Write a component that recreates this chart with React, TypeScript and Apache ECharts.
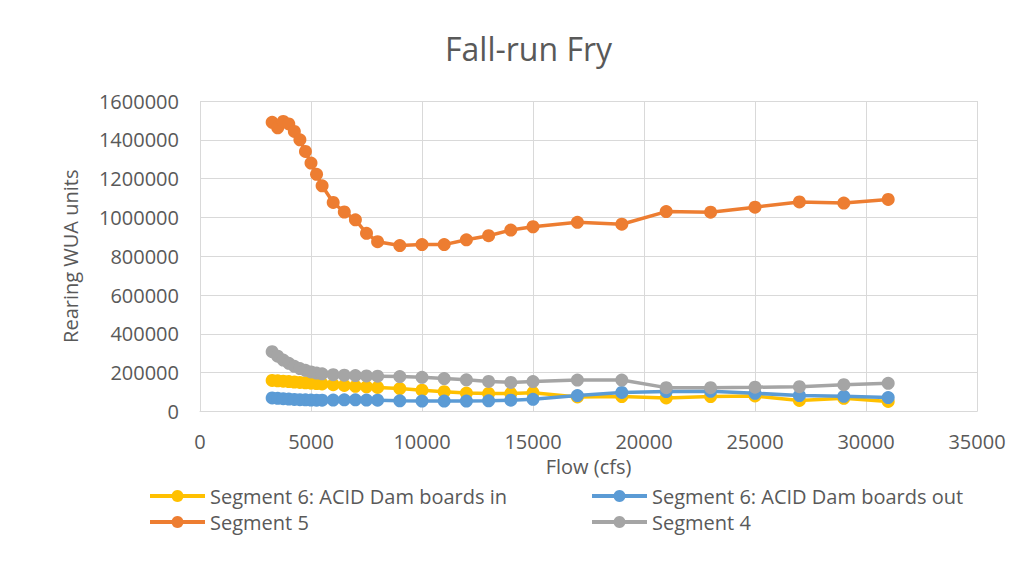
import React, { useEffect, useRef } from "react";
import * as echarts from "echarts";

const flows = [3250, 3500, 3750, 4000, 4250, 4500, 4750, 5000, 5250, 5500, 6000, 6500, 7000, 7500, 8000, 9000, 10000, 11000, 12000, 13000, 14000, 15000, 17000, 19000, 21000, 23000, 25000, 27000, 29000, 31000];

const seg6In = [160000, 158000, 156000, 154000, 152000, 150000, 148000, 146000, 144000, 142000, 138000, 134000, 130000, 127000, 124000, 118000, 110000, 102000, 95000, 93000, 93000, 97000, 75000, 77000, 70000, 77000, 80000, 57000, 68000, 52000];
const seg6Out = [70000, 68000, 66000, 64000, 62000, 61000, 60000, 59000, 58000, 58000, 59000, 60000, 60000, 59000, 58000, 55000, 54000, 54000, 54000, 55000, 58000, 63000, 82000, 98000, 103000, 104000, 94000, 82000, 78000, 72000];
const seg5 = [1490000, 1462000, 1495000, 1482000, 1443000, 1400000, 1340000, 1280000, 1222000, 1163000, 1077000, 1028000, 988000, 918000, 875000, 855000, 860000, 860000, 885000, 906000, 935000, 952000, 975000, 965000, 1030000, 1027000, 1053000, 1080000, 1074000, 1093000];
const seg4 = [308000, 285000, 265000, 248000, 233000, 221000, 212000, 204000, 198000, 194000, 190000, 187000, 185000, 183000, 182000, 180000, 176000, 170000, 163000, 155000, 150000, 154000, 162000, 162000, 123000, 123000, 125000, 128000, 138000, 145000];

const seriesNames = ["Segment 6: ACID Dam boards in", "Segment 6: ACID Dam boards out", "Segment 5", "Segment 4"];
const seriesValues = [seg6In, seg6Out, seg5, seg4];
const seriesColors = ["#FFC000", "#5B9BD5", "#ED7D31", "#A5A5A5"];

const FONT = "'Open Sans', sans-serif";
const TXT = "#595959";

export default function App() {
  const ref = useRef<HTMLDivElement>(null);
  useEffect(() => {
    if (!ref.current) return;
    const chart = echarts.init(ref.current, undefined, { renderer: "svg" });
    const legendPos = [
      { left: 148, top: 486 },
      { left: 590, top: 486 },
      { left: 148, top: 512 },
      { left: 590, top: 512 },
    ];
    chart.setOption({
      animation: false,
      backgroundColor: "#ffffff",
      textStyle: { fontFamily: FONT },
      title: {
        text: "Fall-run Fry",
        left: 440,
        top: 27,
        textStyle: { fontFamily: FONT, fontSize: 32, fontWeight: "normal", color: TXT },
      },
      graphic: [
        {
          type: "line",
          z: 100,
          shape: { x1: 5.5, y1: 0, x2: 5.5, y2: 561 },
          style: { stroke: "#c8c8c8", lineWidth: 1 },
          silent: true,
        },
      ],
      legend: seriesNames.map((n, i) => ({
        data: [n],
        left: legendPos[i].left,
        top: legendPos[i].top,
        padding: 0,
        itemWidth: 55,
        itemHeight: 15,
        lineStyle: { width: 4 },
        textStyle: { fontFamily: FONT, fontSize: 20, color: TXT },
        selectedMode: false,
      })),
      grid: { left: 200, right: 54, top: 101, bottom: 149.5, containLabel: false },
      xAxis: {
        type: "value",
        min: 0,
        max: 35000,
        interval: 5000,
        name: "Flow (cfs)",
        nameLocation: "middle",
        nameGap: 42,
        nameTextStyle: { fontFamily: FONT, fontSize: 20, color: TXT },
        axisLine: { show: true, lineStyle: { color: "#d9d9d9", width: 1 } },
        axisTick: { show: false },
        axisLabel: { fontFamily: FONT, fontSize: 20, color: TXT, margin: 20, formatter: (v: number) => String(v) },
        splitLine: { show: true, lineStyle: { color: "#d9d9d9", width: 1 } },
      },
      yAxis: {
        type: "value",
        min: 0,
        max: 1600000,
        interval: 200000,
        name: "Rearing WUA units",
        nameLocation: "middle",
        nameGap: 120,
        nameTextStyle: { fontFamily: FONT, fontSize: 20, color: TXT },
        axisLine: { show: false },
        axisTick: { show: false },
        axisLabel: { fontFamily: FONT, fontSize: 20, color: TXT, margin: 21, formatter: (v: number) => String(v) },
        splitLine: { show: true, lineStyle: { color: "#d9d9d9", width: 1 } },
      },
      series: seriesNames.map((n, i) => ({
        name: n,
        type: "line",
        data: flows.map((f, j) => [f, seriesValues[i][j]]),
        symbol: "circle",
        symbolSize: 13,
        showSymbol: true,
        itemStyle: { color: seriesColors[i] },
        lineStyle: { color: seriesColors[i], width: 3.5 },
        z: 2 + i,
      })),
    });
    return () => chart.dispose();
  }, []);
  return <div ref={ref} style={{ width: 1031, height: 561, marginTop: -8, marginLeft: -8 }} />;
}
